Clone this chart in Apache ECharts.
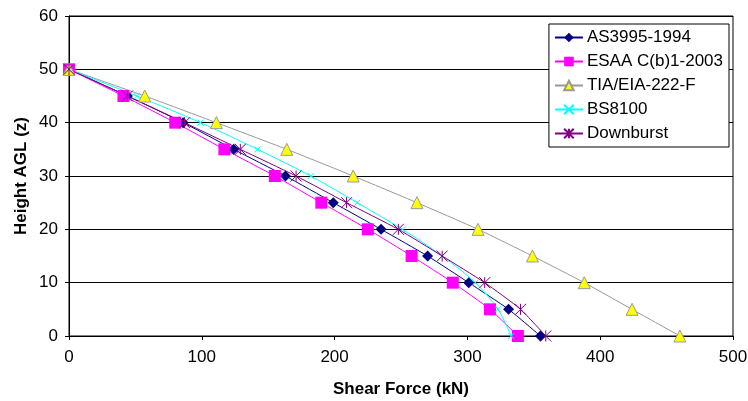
<!DOCTYPE html>
<html>
<head>
<meta charset="utf-8">
<script src="https://cdn.jsdelivr.net/npm/echarts@6/dist/echarts.min.js"></script>
<style>
  html, body { margin: 0; padding: 0; background: #fff; }
  #chart { width: 748px; height: 401px; }
</style>
</head>
<body>
<div id="chart"></div>
<script>
// heights (z) shared by all series
const heights = [50, 45, 40, 35, 30, 25, 20, 15, 10, 5, 0]

// shear force (kN), one per height
const as3995 = [0, 44, 86, 124, 163, 199, 235, 270, 301, 331, 355]
const esaa = [0, 41, 80, 117, 155, 190, 225, 258, 289, 317, 338]
const tia = [0, 57, 111, 164, 214, 262, 308, 349, 388, 424, 460]
const bs8100 = [0, 51, 99, 142, 182, 217, 251, 281, 306, 323, 333]
const downburst = [0, 44, 87, 129, 171, 209, 248, 281, 313, 340, 359]

const xTicks = [0, 100, 200, 300, 400, 500]
const yTicks = [0, 10, 20, 30, 40, 50, 60]

const font = 'Liberation Sans, Arial, sans-serif'
const asterisk = 'path://M0,0 L10,10 M10,0 L0,10 M5,0 L5,10'
const cross = 'path://M0,0 L10,10 M10,0 L0,10'

function pairs(xs) {
  return xs.map((x, i) => [x, heights[i]])
}

function makeSeries(name, xs, color, symbol, size, item, smooth) {
  return {
    name: name,
    type: 'line',
    data: pairs(xs),
    smooth: smooth,
    symbol: symbol,
    symbolSize: size,
    showAllSymbol: true,
    lineStyle: { color: color, width: 1 },
    itemStyle: item,
    emphasis: { disabled: true },
    z: 2
  }
}

const chart = echarts.init(document.getElementById('chart'))
chart.setOption({
  animation: false,
  grid: {
    left: 69, right: 15, top: 16, bottom: 65,
    outerBoundsMode: 'none',
    containLabel: false,
    show: true, borderColor: '#000', borderWidth: 1,
    backgroundColor: '#fff'
  },
  legend: {
    orient: 'vertical',
    right: 19, top: 24,
    padding: [5, 6, 5, 5],
    itemGap: 7,
    itemWidth: 28, itemHeight: 12,
    backgroundColor: '#fff',
    borderColor: '#000', borderWidth: 1,
    textStyle: { fontFamily: font, fontSize: 17, color: '#000', padding: [0, 0, 0, -1] },
    data: ['AS3995-1994', 'ESAA C(b)1-2003', 'TIA/EIA-222-F', 'BS8100', 'Downburst']
  },
  xAxis: {
    type: 'value',
    min: xTicks[0], max: xTicks[xTicks.length - 1], interval: 100,
    name: 'Shear Force (kN)',
    nameLocation: 'middle', nameGap: 45,
    nameTextStyle: { fontFamily: font, fontSize: 17, fontWeight: 'bold', color: '#000' },
    axisLine: { show: true, lineStyle: { color: '#000', width: 1 } },
    axisTick: { show: true, length: 4, lineStyle: { color: '#000' } },
    axisLabel: { fontFamily: font, fontSize: 17, color: '#000', margin: 13 },
    splitLine: { show: false }
  },
  yAxis: {
    type: 'value',
    min: yTicks[0], max: yTicks[yTicks.length - 1], interval: 10,
    name: 'Height AGL (z)',
    nameLocation: 'middle', nameGap: 39, nameRotate: 90,
    nameMoveOverlap: false,
    nameTextStyle: { fontFamily: font, fontSize: 17, fontWeight: 'bold', color: '#000' },
    axisLine: { show: true, lineStyle: { color: '#000', width: 1 } },
    axisTick: { show: true, length: 4, lineStyle: { color: '#000' } },
    axisLabel: { fontFamily: font, fontSize: 17, color: '#000', margin: 11 },
    splitLine: { show: true, lineStyle: { color: '#000', width: 1 } }
  },
  series: [
    makeSeries('AS3995-1994', as3995, '#000080', 'diamond', 11,
      { color: '#000080' }, 0.2),
    makeSeries('ESAA C(b)1-2003', esaa, '#ff00ff', 'rect', 12,
      { color: '#ff00ff' }, 0.2),
    makeSeries('TIA/EIA-222-F', tia, '#999999', 'triangle', 12,
      { color: '#ffff00', borderColor: '#999999', borderWidth: 1 }, 0.2),
    makeSeries('BS8100', bs8100, '#00ffff', cross, 6,
      { color: 'none', borderColor: '#00ffff', borderWidth: 1 }, 0.3),
    makeSeries('Downburst', downburst, '#800080', asterisk, 11,
      { color: 'none', borderColor: '#800080', borderWidth: 1 }, 0.2)
  ]
})
</script>
</body>
</html>
